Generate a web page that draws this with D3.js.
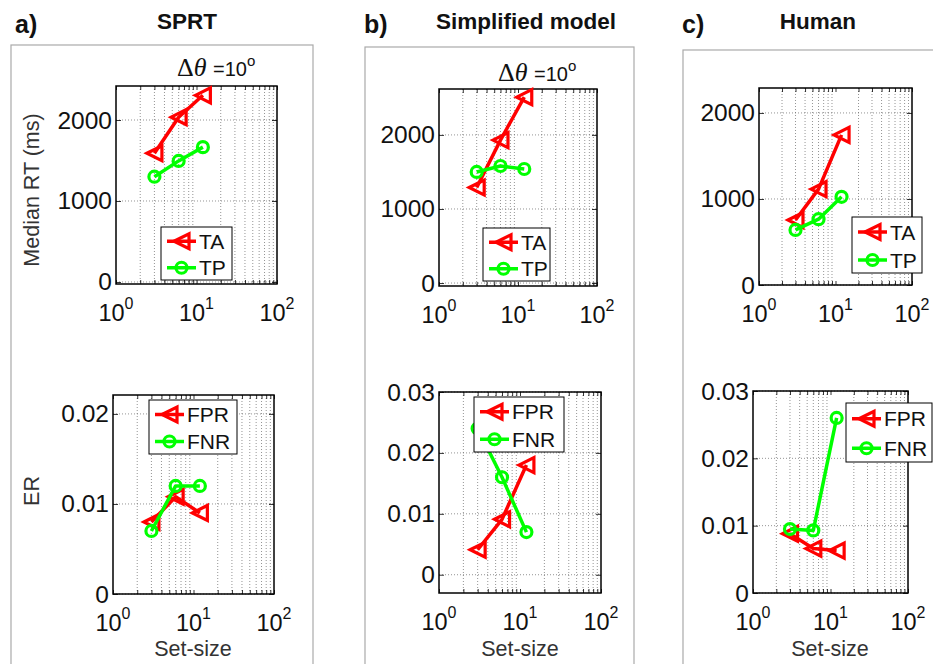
<!DOCTYPE html>
<html>
<head>
<meta charset="utf-8">
<script src="https://cdn.jsdelivr.net/npm/d3@7"></script>
<style>
  body { margin: 0; background: #fff; }
  text { font-family: "Liberation Sans", Arial, Helvetica, sans-serif; fill: #111; }
</style>
</head>
<body>
<div id="chart"></div>
<script>
// data
var setSizes = [3, 6, 12];

var sprtTA = [1590, 2035, 2305];
var sprtTP = [1300, 1495, 1665];
var sprtFPR = [0.0080, 0.0108, 0.0090];
var sprtFNR = [0.0070, 0.0120, 0.0120];

var simpTA = [1290, 1930, 2510];
var simpTP = [1500, 1580, 1540];
var simpFPR = [0.0041, 0.0091, 0.0180];
var simpFNR = [0.0240, 0.0160, 0.0070];

var humTA = [755, 1115, 1745];
var humTP = [640, 765, 1025];
var humFPR = [0.0088, 0.0066, 0.0063];
var humFNR = [0.0095, 0.0093, 0.0260];

var rtTicks = [0, 1000, 2000];
var erTicksA = [0, 0.01, 0.02];
var erTicksBC = [0, 0.01, 0.02, 0.03];
var xTicks = [1, 10, 100];
var rtNames = ["TA", "TP"];
var erNames = ["FPR", "FNR"];

var svg = d3.select("#chart").append("svg")
    .attr("width", 933)
    .attr("height", 664);

// gray panel frames
[[11, 45, 302], [365, 47, 269], [683, 50, 280]].forEach(function (f) {
    svg.append("rect")
        .attr("x", f[0]).attr("y", f[1])
        .attr("width", f[2]).attr("height", 700)
        .style("fill", "none")
        .style("stroke", "#aaa")
        .style("stroke-width", 1.2);
});

// panel letters and titles
[["a)", 15, 33], ["b)", 364, 33], ["c)", 682, 33]].forEach(function (t) {
    svg.append("text").attr("x", t[1]).attr("y", t[2])
        .style("font-size", "25px").style("font-weight", "bold").text(t[0]);
});
[["SPRT", 187], ["Simplified model", 526], ["Human", 818]].forEach(function (t) {
    svg.append("text").attr("x", t[1]).attr("y", 29)
        .attr("text-anchor", "middle")
        .style("font-size", "22.5px").style("font-weight", "bold").text(t[0]);
});

var minorX = [];
[1, 10].forEach(function (d) { for (var k = 2; k <= 9; k++) minorX.push(d * k); });

function triangle(r) {
    return "M" + (-r) + ",0L" + r + "," + (-r) + "L" + r + "," + r + "Z";
}

function drawMarker(g, kind, x, y) {
    if (kind === "tri") {
        g.append("path").attr("d", triangle(7.5))
            .attr("transform", "translate(" + x + "," + y + ")")
            .style("fill", "none").style("stroke", "#ff0000")
            .style("stroke-width", 3.2).style("stroke-linejoin", "miter");
    } else {
        g.append("circle").attr("cx", x).attr("cy", y).attr("r", 5.5)
            .style("fill", "none").style("stroke", "#00ff00")
            .style("stroke-width", 3.2);
    }
}

function panel(p) {
    var g = svg.append("g");
    var x = d3.scaleLog().domain([1, 100]).range([p.x0, p.x1]);
    var y = d3.scaleLinear().domain(p.yDomain).range([p.y1, p.y0]);

    // dotted grid
    minorX.forEach(function (v) {
        g.append("line").attr("x1", x(v)).attr("x2", x(v))
            .attr("y1", p.y0).attr("y2", p.y1)
            .style("stroke", "#666").style("stroke-width", 0.7)
            .style("stroke-dasharray", "1,2");
    });
    p.yTicks.forEach(function (v) {
        g.append("line").attr("x1", p.x0).attr("x2", p.x1)
            .attr("y1", y(v)).attr("y2", y(v))
            .style("stroke", "#666").style("stroke-width", 0.7)
            .style("stroke-dasharray", "1,2");
    });

    // inward ticks on all sides
    var yAxL = d3.axisLeft(y).tickValues(p.yTicks).tickSize(-5).tickFormat("");
    var yAxR = d3.axisRight(y).tickValues(p.yTicks).tickSize(-5).tickFormat("");
    var xAxB = d3.axisBottom(x).tickValues(xTicks.concat(minorX)).tickSize(-4).tickFormat("");
    var xAxT = d3.axisTop(x).tickValues(xTicks.concat(minorX)).tickSize(-4).tickFormat("");
    [[yAxL, "translate(" + p.x0 + ",0)"], [yAxR, "translate(" + p.x1 + ",0)"],
     [xAxB, "translate(0," + p.y1 + ")"], [xAxT, "translate(0," + p.y0 + ")"]].forEach(function (a) {
        var ax = g.append("g").attr("transform", a[1]).call(a[0]);
        ax.select(".domain").remove();
        ax.selectAll("line").style("stroke", "#000").style("stroke-width", 0.8);
    });

    // box
    g.append("rect").attr("x", p.x0).attr("y", p.y0)
        .attr("width", p.x1 - p.x0).attr("height", p.y1 - p.y0)
        .style("fill", "none").style("stroke", "#000").style("stroke-width", 1.5);

    // y tick labels
    p.yTicks.forEach(function (v) {
        g.append("text").attr("x", p.x0 - 4).attr("y", y(v) + 8.5)
            .attr("text-anchor", "end").style("font-size", "24.5px")
            .text(v === 0 ? "0" : (v < 1 ? d3.format(".2f")(v) : v));
    });

    // x tick labels 10^n
    xTicks.forEach(function (v, i) {
        var t = g.append("text").attr("x", x(v)).attr("y", p.y1 + 37)
            .attr("text-anchor", "middle").style("font-size", "23.5px");
        t.append("tspan").text("10");
        t.append("tspan").attr("dy", -12).style("font-size", "16px").text(String(i));
    });

    // series
    var line = d3.line().x(function (d) { return x(d[0]); }).y(function (d) { return y(d[1]); });
    p.series.forEach(function (s) {
        var pts = setSizes.map(function (n, i) { return [n, s.values[i]]; });
        g.append("path").datum(pts).attr("d", line)
            .style("fill", "none").style("stroke", s.color)
            .style("stroke-width", 3.5).style("stroke-linejoin", "round");
        pts.forEach(function (d) { drawMarker(g, s.marker, x(d[0]), y(d[1])); });
    });

    // legend
    var L = p.legend;
    g.append("rect").attr("x", L[0]).attr("y", L[1])
        .attr("width", L[2] - L[0]).attr("height", L[3] - L[1])
        .style("fill", "#fff").style("stroke", "#000").style("stroke-width", 1);
    var rowH = (L[3] - L[1]) / 2;
    p.series.forEach(function (s, i) {
        var cy = L[1] + rowH * (i + 0.5) + 1;
        g.append("line").attr("x1", L[0] + 6).attr("x2", L[0] + 35)
            .attr("y1", cy).attr("y2", cy)
            .style("stroke", s.color).style("stroke-width", 3.5);
        drawMarker(g, s.marker, L[0] + 20.5, cy);
        g.append("text").attr("x", L[0] + 38).attr("y", cy + 7.5)
            .style("font-size", "21px").text(s.name);
    });

    // delta theta label
    if (p.dtheta) {
        var dt = g.append("text").attr("x", p.dtheta[0]).attr("y", p.dtheta[1]);
        dt.append("tspan").style("font-family", "'Liberation Serif', serif")
            .style("font-size", "26px").text("\u0394");
        dt.append("tspan").style("font-family", "'Liberation Serif', serif")
            .style("font-style", "italic").style("font-size", "26px").text("\u03b8 ");
        dt.append("tspan").style("font-size", "20px").text("=10");
        dt.append("tspan").attr("dy", -10).style("font-size", "15px").text("o");
    }
    return g;
}

function rtSeries(ta, tp) {
    return [{ name: rtNames[0], values: ta, color: "#ff0000", marker: "tri" },
            { name: rtNames[1], values: tp, color: "#00ff00", marker: "circ" }];
}
function erSeries(fpr, fnr) {
    return [{ name: erNames[0], values: fpr, color: "#ff0000", marker: "tri" },
            { name: erNames[1], values: fnr, color: "#00ff00", marker: "circ" }];
}

panel({ x0: 116, x1: 277, y0: 86, y1: 284, yDomain: [-25, 2420], yTicks: rtTicks,
        series: rtSeries(sprtTA, sprtTP), legend: [161, 227, 232, 280], dtheta: [177, 76] });
panel({ x0: 113, x1: 274, y0: 395, y1: 594, yDomain: [0, 0.0221], yTicks: erTicksA,
        series: erSeries(sprtFPR, sprtFNR), legend: [149, 400, 237, 454] });
panel({ x0: 439, x1: 597, y0: 89, y1: 286, yDomain: [-40, 2620], yTicks: rtTicks,
        series: rtSeries(simpTA, simpTP), legend: [483, 228, 550, 281], dtheta: [498, 81] });
panel({ x0: 439, x1: 601, y0: 392, y1: 593, yDomain: [-0.003, 0.03], yTicks: erTicksBC,
        series: erSeries(simpFPR, simpFNR), legend: [474, 397, 564, 452] });
panel({ x0: 759, x1: 912, y0: 88, y1: 285, yDomain: [0, 2290], yTicks: rtTicks,
        series: rtSeries(humTA, humTP), legend: [852, 217, 922, 273] });
panel({ x0: 753, x1: 908, y0: 391, y1: 593, yDomain: [0, 0.03], yTicks: erTicksBC,
        series: erSeries(humFPR, humFNR), legend: [846, 403, 932, 462] });

// axis titles
svg.append("text").attr("transform", "translate(39,190) rotate(-90)")
    .attr("text-anchor", "middle").style("font-size", "21.5px").style("fill", "#333")
    .text("Median RT (ms)");
svg.append("text").attr("transform", "translate(39,491) rotate(-90)")
    .attr("text-anchor", "middle").style("font-size", "21.5px").style("fill", "#333")
    .text("ER");
[193, 520, 830].forEach(function (cx) {
    svg.append("text").attr("x", cx).attr("y", 656)
        .attr("text-anchor", "middle").style("font-size", "21.5px").style("fill", "#333")
        .text("Set-size");
});
</script>
</body>
</html>
